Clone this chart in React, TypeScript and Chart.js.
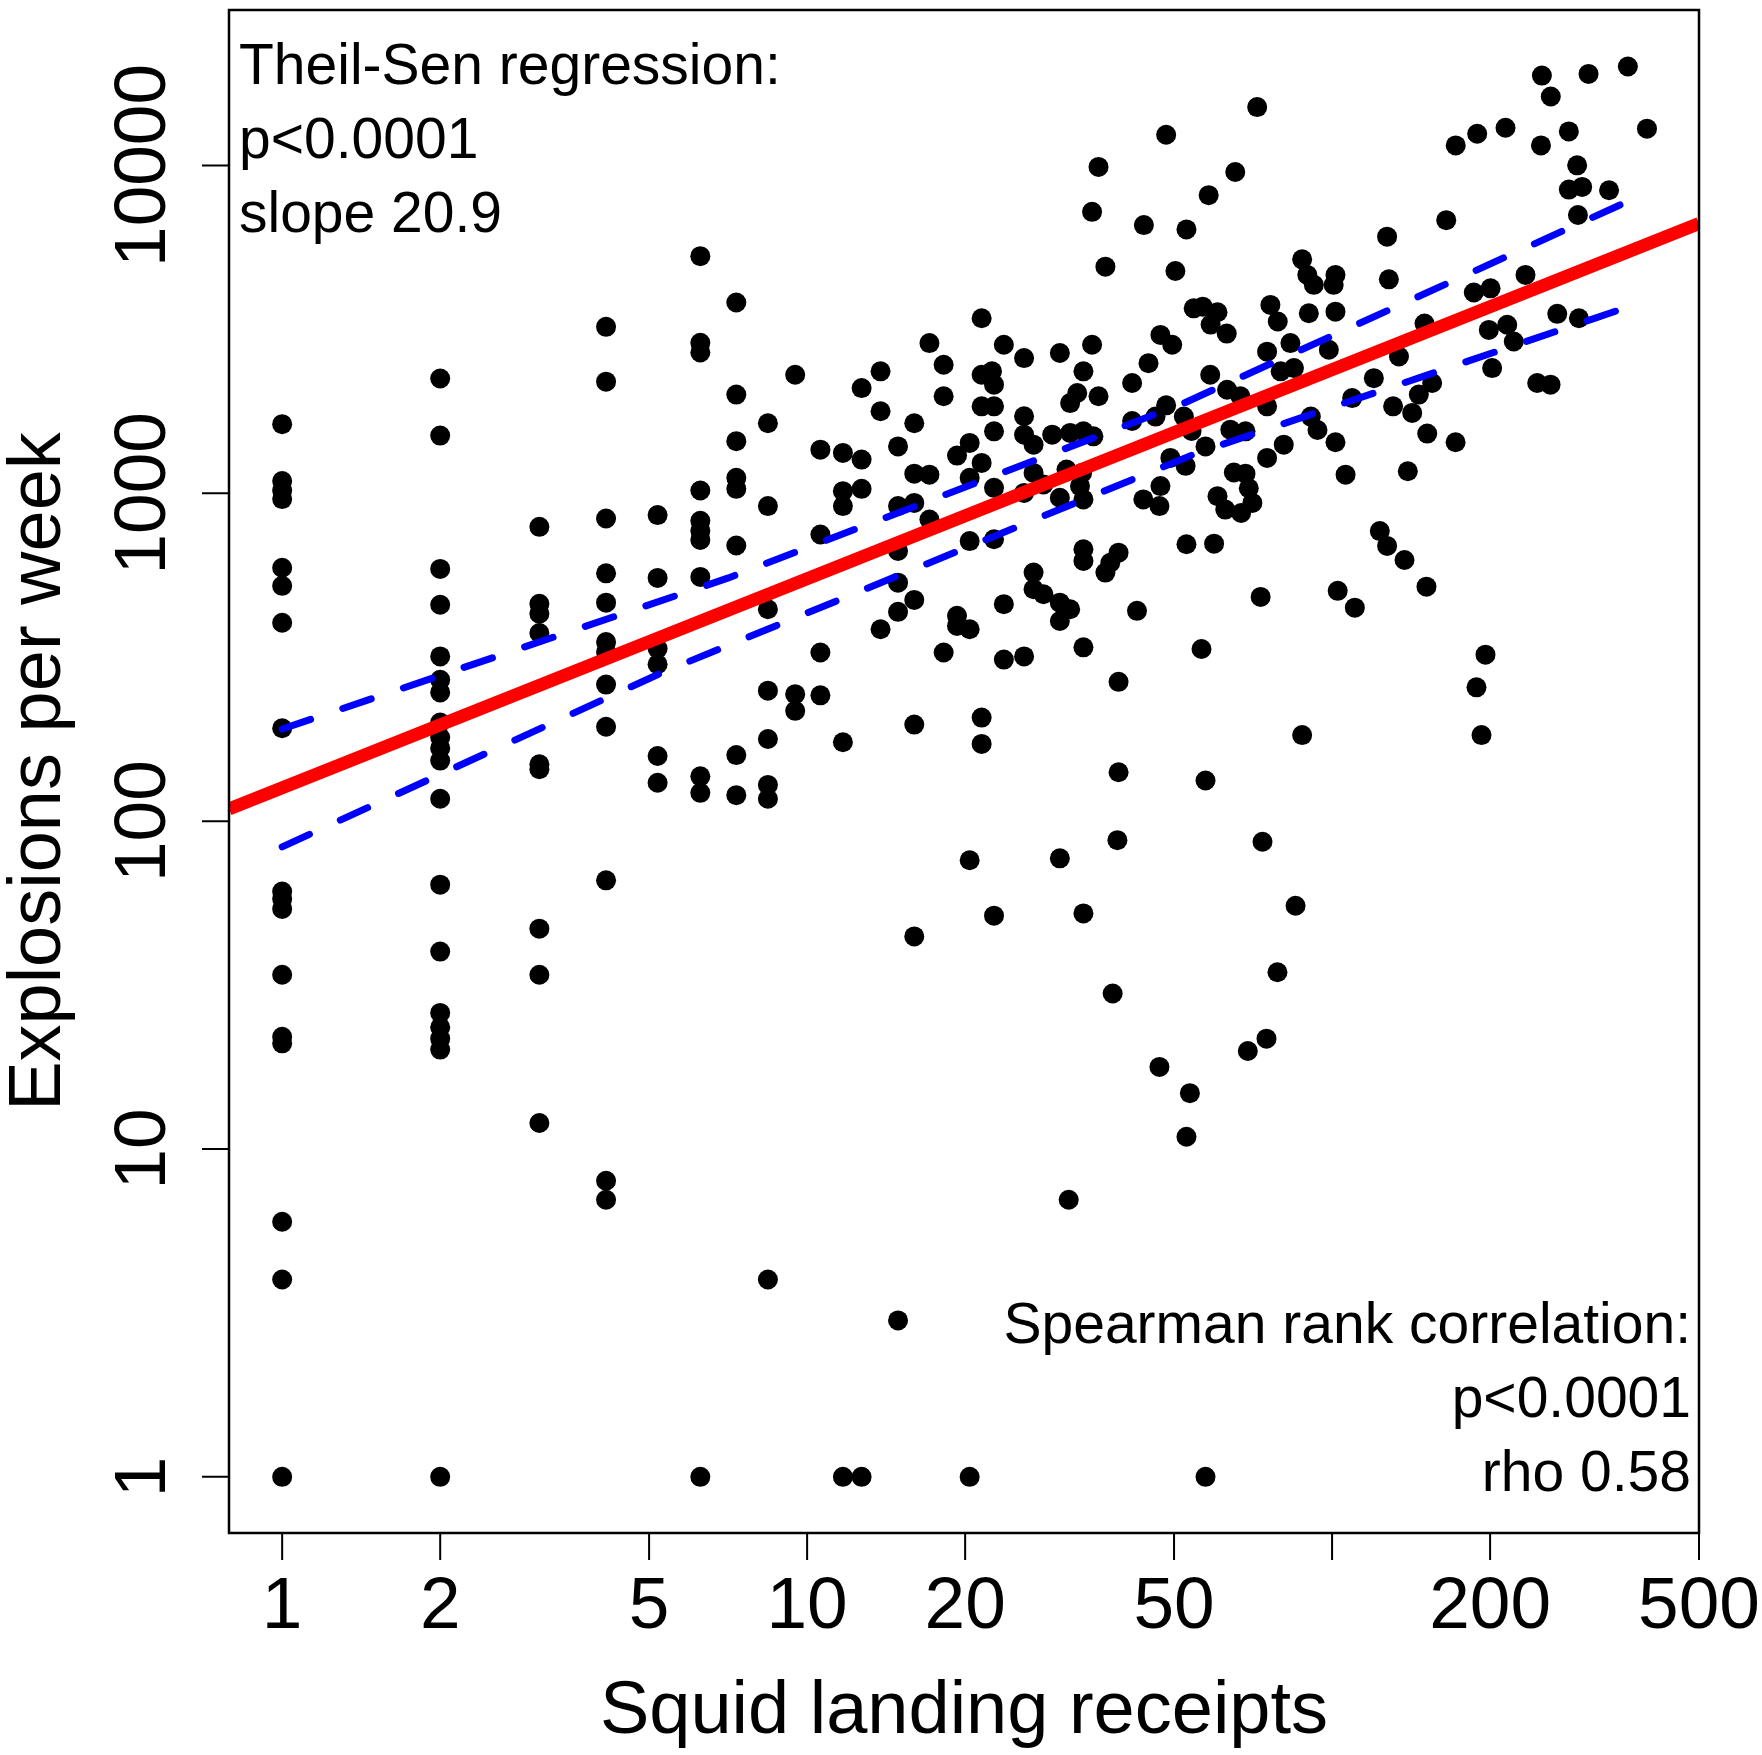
import React, { useEffect, useRef } from "react";
import { Chart, registerables } from "chart.js";

Chart.register(...registerables);

// weekly squid landing receipts vs seal-bomb explosions (log-log scatter)
const receipts = [
  1, 1, 1, 1, 1, 1, 1, 1, 1, 1, 1, 1, 1, 1, 1, 1, 1,
  2, 2, 2, 2, 2, 2, 2, 2, 2, 2, 2, 2, 2, 2, 2, 2, 2, 2, 2,
  3.09, 3.09, 3.09, 3.09, 3.09, 3.09, 3.09, 3.09, 3.09,
  4.14, 4.14, 4.14, 4.14, 4.14, 4.14, 4.14, 4.14, 4.14, 4.14, 4.14, 4.14,
  5.19, 5.19, 5.19, 5.19, 5.19, 5.19,
  6.26, 6.26, 6.26, 6.26, 6.26, 6.26, 6.26, 6.26, 6.26, 6.26, 6.26,
  7.33, 7.33, 7.33, 7.33, 7.33, 7.33, 7.33, 7.33,
  8.42, 8.42, 8.42, 8.42, 8.42, 8.42, 8.42, 8.42,
  9.49, 9.49, 9.49, 10.6, 10.6, 10.6, 10.6,
  11.7, 11.7, 11.7, 11.7, 11.7, 12.7, 12.7, 12.7, 12.7,
  13.8, 13.8, 13.8, 14.9, 14.9, 14.9, 14.9, 14.9, 14.9,
  16.0, 16.0, 16.0, 16.0, 16.0, 16.0, 17.1, 17.1, 17.1,
  18.2, 18.2, 18.2, 19.3, 19.3, 19.3,
  20.4, 20.4, 20.4, 20.4, 20.4, 20.4, 21.5, 21.5, 21.5, 21.5, 21.5, 21.5,
  22.5, 22.7, 22.7, 22.7, 22.7, 22.7, 22.7, 23.7, 23.7, 23.7,
  25.9, 25.9, 25.9, 25.9, 25.9, 27.0, 27.0, 27.0, 27.0, 28.2, 28.2, 29.3,
  30.3, 30.3, 30.3, 30.3, 30.3, 31.2, 31.5, 31.7, 31.7, 31.7, 32.7, 33.1, 33.4,
  33.6, 33.6, 33.6, 33.6, 33.6, 33.6, 33.6, 34.9, 34.9, 35.1, 35.9, 35.9,
  37.0, 37.0, 37.8, 38.2, 39.0, 39.2, 39.2, 39.2,
  41.6, 41.6, 42.5, 43.7, 43.8, 44.7, 46.1, 46.9, 46.9,
  47.1, 47.1, 48.3, 48.3, 49.2, 49.6, 50.3, 52.2, 52.6,
  52.8, 52.8, 52.8, 53.6, 54.0, 54.5, 56.4, 56.7,
  57.4, 57.4, 57.4, 58.2, 58.6, 58.7, 59.6, 60.5, 60.5,
  62.6, 63.0, 63.1, 64.0, 65.0, 65.4, 66.9, 67.1, 68.4, 68.4, 69.1, 69.4, 70.5,
  72.0, 73.1, 73.7, 75.0, 75.2, 75.2, 75.2, 76.3, 78.7, 78.8, 79.8, 80.9,
  83.3, 84.6, 85.2, 87.7, 87.7, 89.7, 90.3, 91.1, 92.3, 93.8, 98.6,
  100.7, 101.5, 101.5, 101.5, 102.5, 106.1, 109.2, 110.5,
  120.1, 123.3, 127.3, 127.3, 128.3, 130.7, 134.1, 137.4, 139.4, 142.1, 146.3,
  150, 151.3, 151.8, 155.1, 165, 171.9, 172, 186.2, 188.4, 189,
  192.6, 196, 198.9, 200.4, 201.8, 214, 215.6, 221.9, 233.6,
  245.9, 250, 251, 260.7, 261, 268.5, 282.5, 282.5, 293, 294, 295.3, 299.5,
  308, 337, 366, 398,
];

const explosions = [
  1625, 1090, 1020, 960, 593, 522, 403, 192, 61, 58, 54, 34, 22, 21, 6, 4, 1,
  2240, 1500, 588, 457, 318, 270, 247, 200, 180, 167, 153, 117, 64, 40, 26, 23.5, 21.7, 20.1, 1,
  790, 460, 429, 375, 149, 144, 47, 34, 12,
  3220, 2190, 838, 570, 464, 352, 328, 261, 194, 66, 8, 7,
  858, 552, 336, 301, 158, 131,
  5290, 2880, 2690, 1020, 824, 769, 721, 556, 137, 122, 1,
  3819, 2000, 1442, 1115, 1032, 693, 159, 120,
  1636, 914, 443, 250, 178, 129, 117, 4,
  2300, 244, 217, 1359, 749, 327, 242,
  1328, 1015, 914, 174, 1, 2094, 1267, 1032, 1,
  2355, 1779, 385, 1390, 914, 667, 534, 435, 3,
  1636, 1148, 935, 473, 197, 44.5, 2872, 1140, 832,
  2467, 1977, 327, 1303, 423, 394,
  1425, 1115, 715, 385, 76, 1, 3420, 2300, 1842, 1238, 207, 172,
  2355, 2145, 1842, 1545, 1039, 724, 51.5, 2838, 459, 311,
  2585, 1718, 1510, 1003, 318, 1407, 1154, 573, 510, 1064, 492, 1510,
  2678, 969, 464, 408, 77, 1182, 7, 1884, 1528, 443, 2023, 1052, 1154,
  2355, 1545, 958, 675, 622, 339, 52.3, 2838, 7219, 1492, 9900, 1977,
  4913, 573, 614, 29.8, 87.5, 659, 266, 141,
  2170, 1662, 438, 958, 6577, 2495, 1714, 914, 17.8,
  3042, 1052, 12410, 1855, 1282, 2838, 4764, 1714, 1213,
  6383, 699, 10.9, 14.8, 1549, 3666, 335, 3709,
  1390, 133, 1, 8118, 2300, 3271, 702, 3566, 980,
  892, 3070, 2069, 1564, 1157, 9550, 1977, 871, 1545, 1148, 19.9, 1036, 935,
  15070, 483, 86.5, 21.7, 2705, 1842, 1282, 3755, 34.6, 3343, 2355, 1407,
  2872, 2410, 55.2, 5172, 183, 4637, 3543, 1714, 4323, 1560, 2740,
  4323, 4637, 3582, 1431, 504, 1140, 1952, 448,
  2245, 767, 6066, 691, 4494, 1842, 2614, 626, 1168, 1759, 2000,
  3296, 519, 1521, 2170, 6810, 1431, 11510, 4096, 256, 12500,
  183, 322, 3151, 4220, 2410, 13030, 3266, 2905, 4637,
  2170, 11510, 18800, 2145, 16230, 3527, 12700, 8440, 10010, 7060, 3420, 8600,
  19020, 8400, 20040, 12950,
];

// Theil-Sen fit (red) and its confidence band (blue dashed)
const fitX = [0.792, 500];
const fitY = [109, 6650];
const upperX = [1, 7.08, 52.2, 362];
const upperY = [191, 552, 1884, 7710];
const lowerX = [1, 5.32, 55.3, 352];
const lowerY = [83.5, 285, 1327, 3623];

const xTicks = [1, 2, 5, 10, 20, 50, 100, 200, 500];
const xTickLabels = ["1", "2", "5", "10", "20", "50", "", "200", "500"];
const yTicks = [1, 10, 100, 1000, 10000];
const yTickLabels = ["1", "10", "100", "1000", "10000"];

const theilLines = ["Theil-Sen regression:", "p<0.0001", "slope 20.9"];
const spearmanLines = ["Spearman rank correlation:", "p<0.0001", "rho 0.58"];

const FONT = '"Liberation Sans", Arial, sans-serif';

const toPoints = (xs: number[], ys: number[]) => xs.map((x, i) => ({ x, y: ys[i] }));

// R-style box, outward ticks, rotated y labels and the two text blocks
const basePlotFrame = {
  id: "basePlotFrame",
  afterDraw(chart: Chart) {
    const { ctx, chartArea: a } = chart;
    const xs = chart.scales.x;
    const ys = chart.scales.y;
    ctx.save();
    ctx.strokeStyle = "#000";
    ctx.fillStyle = "#000";

    ctx.lineWidth = 2.5;
    ctx.strokeRect(a.left, a.top, a.right - a.left, a.bottom - a.top);

    ctx.lineWidth = 2;
    ctx.beginPath();
    xTicks.forEach((v) => {
      const px = xs.getPixelForValue(v);
      ctx.moveTo(px, a.bottom);
      ctx.lineTo(px, a.bottom + 27);
    });
    yTicks.forEach((v) => {
      const py = ys.getPixelForValue(v);
      ctx.moveTo(a.left, py);
      ctx.lineTo(a.left - 27, py);
    });
    ctx.stroke();

    ctx.font = `73px ${FONT}`;
    ctx.textAlign = "center";
    ctx.textBaseline = "alphabetic";
    xTicks.forEach((v, i) => {
      ctx.fillText(xTickLabels[i], xs.getPixelForValue(v), a.bottom + 95);
    });
    yTicks.forEach((v, i) => {
      ctx.save();
      ctx.translate(a.left - 64, ys.getPixelForValue(v));
      ctx.rotate(-Math.PI / 2);
      ctx.fillText(yTickLabels[i], 0, 0);
      ctx.restore();
    });

    // axis titles
    ctx.font = `74px ${FONT}`;
    ctx.fillText("Squid landing receipts", (a.left + a.right) / 2, a.bottom + 200);
    ctx.save();
    ctx.translate(60, (a.top + a.bottom) / 2);
    ctx.rotate(-Math.PI / 2);
    ctx.fillText("Explosions per week", 0, 0);
    ctx.restore();

    // annotations
    ctx.font = `57px ${FONT}`;
    ctx.textAlign = "left";
    theilLines.forEach((t, i) => ctx.fillText(t, a.left + 10, a.top + 74 + i * 74));
    ctx.textAlign = "right";
    spearmanLines.forEach((t, i) => ctx.fillText(t, a.right - 8, a.bottom - 190 + i * 74));

    ctx.restore();
  },
};

const App = () => {
  const canvasRef = useRef<HTMLCanvasElement | null>(null);
  const chartRef = useRef<Chart | null>(null);

  useEffect(() => {
    const ctx = canvasRef.current?.getContext("2d");
    if (!ctx) return;
    if (chartRef.current) chartRef.current.destroy();

    chartRef.current = new Chart(ctx, {
      type: "scatter",
      data: {
        datasets: [
          {
            label: "Theil-Sen fit",
            data: toPoints(fitX, fitY),
            showLine: true,
            borderColor: "#ff0000",
            borderWidth: 13,
            pointRadius: 0,
            borderCapStyle: "butt",
          },
          {
            label: "Upper bound",
            data: toPoints(upperX, upperY),
            showLine: true,
            borderColor: "#0000ff",
            borderWidth: 7,
            borderDash: [30, 34],
            borderCapStyle: "round",
            pointRadius: 0,
          },
          {
            label: "Lower bound",
            data: toPoints(lowerX, lowerY),
            showLine: true,
            borderColor: "#0000ff",
            borderWidth: 7,
            borderDash: [30, 34],
            borderCapStyle: "round",
            pointRadius: 0,
          },
          {
            label: "Weeks",
            data: toPoints(receipts, explosions),
            backgroundColor: "#000",
            borderWidth: 0,
            pointRadius: 10,
            pointHoverRadius: 10,
          },
        ],
      },
      options: {
        responsive: true,
        maintainAspectRatio: false,
        animation: false,
        events: [],
        layout: { padding: { left: 229, right: 63, top: 6, bottom: 222 } },
        plugins: {
          legend: { display: false },
          tooltip: { enabled: false },
        },
        scales: {
          x: { type: "logarithmic", min: 0.792, max: 500, display: false },
          y: { type: "logarithmic", min: 0.674, max: 29800, display: false },
        },
      },
      plugins: [basePlotFrame],
    });

    return () => {
      if (chartRef.current) {
        chartRef.current.destroy();
        chartRef.current = null;
      }
    };
  }, []);

  return (
    <div style={{ position: "absolute", left: 0, top: 0, width: 1762, height: 1755, background: "#fff" }}>
      <canvas ref={canvasRef} style={{ width: "100%", height: "100%" }}></canvas>
    </div>
  );
};

export default App;
